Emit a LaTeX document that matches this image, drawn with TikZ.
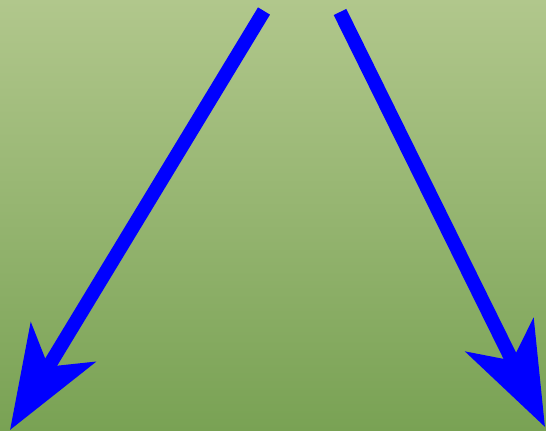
\documentclass[tikz,border=0pt]{standalone}
\usetikzlibrary{arrows.meta}

\definecolor{lawntop}{RGB}{177,199,140}
\definecolor{lawnbottom}{RGB}{121,162,84}

\begin{document}
\begin{tikzpicture}[x=0.01cm, y=0.01cm,
  bigarrow/.style={draw=blue, line width=0.14cm,
    -{Stealth[length=1.02cm, width=0.75cm, inset=0.28cm]}}]
\useasboundingbox (0,0) rectangle (546,430);
\shade[top color=lawntop, bottom color=lawnbottom] (0,0) rectangle (546,430);
\coordinate (leftstart) at (264,419);
\coordinate (lefttip) at (10,0);
\coordinate (rightstart) at (340,418);
\coordinate (righttip) at (545,3);
\draw[bigarrow] (leftstart) -- (lefttip);
\draw[bigarrow] (rightstart) -- (righttip);
\end{tikzpicture}
\end{document}
